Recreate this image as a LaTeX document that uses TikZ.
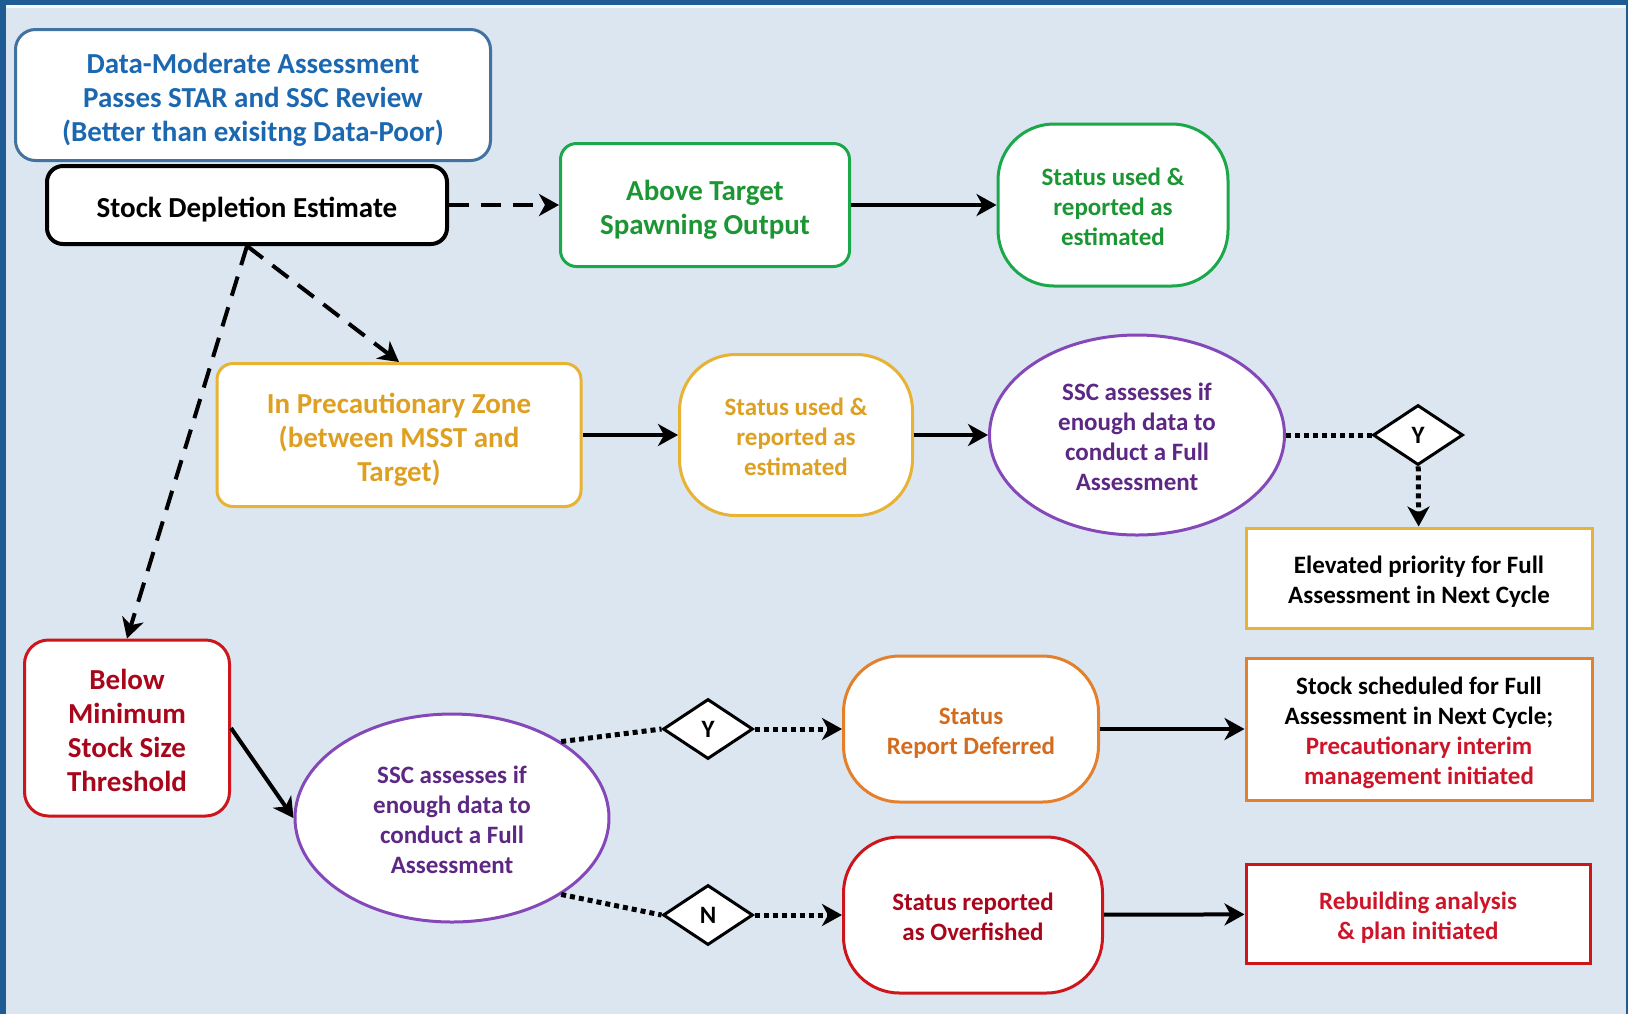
\documentclass[tikz,border=0pt]{standalone}
\usepackage{fontspec}
\setmainfont{Carlito}
\usepackage{xcolor}
\usepackage{tikz}
\usetikzlibrary{arrows.meta,shapes.geometric}
\definecolor{fundo}{RGB}{220,230,241}
\definecolor{moldura}{RGB}{31,92,148}
\definecolor{azulborda}{RGB}{66,114,160}
\definecolor{azultexto}{RGB}{28,104,176}
\definecolor{verdeborda}{RGB}{26,168,74}
\definecolor{verdetexto}{RGB}{28,150,52}
\definecolor{ouroborda}{RGB}{232,178,52}
\definecolor{ourotexto}{RGB}{222,160,34}
\definecolor{roxoborda}{RGB}{133,72,184}
\definecolor{roxotexto}{RGB}{92,40,132}
\definecolor{laranjaborda}{RGB}{228,128,44}
\definecolor{laranjatexto}{RGB}{212,108,32}
\definecolor{vermelhoborda}{RGB}{205,22,28}
\definecolor{vermelhotexto}{RGB}{168,6,28}
\definecolor{vermelhovivo}{RGB}{206,20,40}
\tikzset{
  texto/.style={inner sep=0pt,align=flush center,
    execute at begin node={\rule{0pt}{1.12em}},
    execute at end node={\rule[-0.25em]{0pt}{0.25em}}},
  caixa/.style={texto,rectangle,rounded corners=8pt,fill=white,line width=1.5pt,
    font=\bfseries\fontsize{14.5}{17}\selectfont},
  pilula/.style={texto,rectangle,rounded corners=28pt,fill=white,line width=1.5pt,
    font=\bfseries\fontsize{12.5}{15}\selectfont},
  oval/.style={texto,ellipse,draw=roxoborda,fill=white,line width=1.5pt,text=roxotexto,
    font=\bfseries\fontsize{12.5}{15}\selectfont},
  quadro/.style={texto,rectangle,fill=white,line width=1.5pt,
    font=\bfseries\fontsize{12.5}{15}\selectfont},
  decisao/.style={diamond,aspect=1.5,draw=black,fill=white,line width=1.5pt,
    minimum width=45pt,minimum height=30pt,inner sep=0pt,
    font=\bfseries\fontsize{12.5}{15}\selectfont},
  seta/.style={-{Stealth[length=10pt,width=11pt,inset=3pt]},line width=2pt},
  setatraco/.style={seta,dash pattern=on 10pt off 6pt},
  setaponto/.style={line width=2.5pt,dash pattern=on 2.5pt off 2pt},
  setapontocab/.style={setaponto,-{Stealth[length=10pt,width=11pt,inset=3pt]}}
}
\begin{document}
\begin{tikzpicture}[x=0.5pt,y=-0.5pt]
  \useasboundingbox (0,0) rectangle (1628,1014);
  \fill[moldura] (0,0) rectangle (1628,1014);
  \fill[fundo] (6,5) rectangle (1626,1014);
  \fill[white!70!fundo] (6,5) rectangle (1626,8);

  % linha de cima
  \node[caixa,draw=azulborda,text=azultexto,rounded corners=10pt,
    text width=237.5pt,minimum height=65.5pt] (dma) at (253,95)
    {Data-Moderate Assessment\\Passes STAR and SSC Review\\(Better than exisitng Data-Poor)};
  \node[caixa,draw=black,line width=2pt,text width=200pt,minimum height=39pt]
    (estimativa) at (247,205) {Stock Depletion Estimate};
  \node[caixa,draw=verdeborda,text=verdetexto,text width=144.5pt,
    minimum height=61.5pt] (acima) at (705,205) {Above Target\\Spawning Output};
  \node[pilula,draw=verdeborda,text=verdetexto,text width=115pt,
    minimum height=81pt] (usadoverde) at (1113,205)
    {Status used \&\\reported as\\estimated};

  % zona de precaucao
  \node[caixa,draw=ouroborda,text=ourotexto,text width=182pt,
    minimum height=71.5pt] (precaucao) at (399,435)
    {In Precautionary Zone\\(between MSST and\\Target)};
  \node[pilula,draw=ouroborda,text=ourotexto,text width=116.5pt,
    minimum height=80.5pt] (usadoouro) at (796,435)
    {Status used \&\\reported as\\estimated};
  \node[oval,text width=100pt,minimum width=147.5pt,minimum height=100pt]
    (sscum) at (1137,435)
    {SSC assesses if\\enough data to\\conduct a Full\\Assessment};
  \node[decisao] (simum) at (1418,435) {Y};
  \node[quadro,draw=ouroborda,text width=173pt,minimum height=50pt]
    (elevada) at (1419,578) {Elevated priority for Full\\Assessment in Next Cycle};

  % abaixo do limiar
  \node[caixa,draw=vermelhoborda,text=vermelhotexto,rounded corners=12pt,
    text width=102.5pt,minimum height=88pt] (abaixo) at (127,728)
    {Below\\Minimum\\Stock Size\\Threshold};
  \node[oval,text width=105pt,minimum width=157pt,minimum height=104pt]
    (sscdois) at (452,818)
    {SSC assesses if\\enough data to\\conduct a Full\\Assessment};
  \node[decisao] (simdois) at (708,729) {Y};
  \node[decisao] (nao) at (708,915) {N};
  \node[pilula,draw=laranjaborda,text=laranjatexto,text width=127.5pt,
    minimum height=73pt] (adiado) at (971,729) {Status\\Report Deferred};
  \node[pilula,draw=vermelhoborda,text=vermelhotexto,text width=129.5pt,
    minimum height=78pt] (sobrepesca) at (973,915)
    {Status reported\\as Overfished};
  \node[quadro,draw=laranjaborda,text width=173pt,minimum height=71pt]
    (agendado) at (1419,729) {Stock scheduled for Full\\Assessment in Next Cycle;\\
    \textcolor{vermelhovivo}{Precautionary interim}\\
    \textcolor{vermelhovivo}{management initiated}};
  \node[quadro,draw=vermelhoborda,text=vermelhovivo,text width=172pt,
    minimum height=49.5pt] (reconstrucao) at (1418,914)
    {Rebuilding analysis\\\& plan initiated};

  % setas
  \draw[setatraco] (estimativa) -- (acima);
  \draw[setatraco] (estimativa.south) -- (precaucao.north);
  \draw[setatraco] (estimativa.south) -- (abaixo.north);
  \draw[seta] (acima) -- (usadoverde);
  \draw[seta] (precaucao) -- (usadoouro);
  \draw[seta] (usadoouro) -- (sscum);
  \draw[setaponto] (sscum) -- (simum);
  \draw[setapontocab] (simum) -- (elevada);
  \draw[seta] (abaixo.east) -- (sscdois.west);
  \draw[setaponto] (sscdois.35) -- (simdois.west);
  \draw[setaponto] (sscdois.-35) -- (nao.west);
  \draw[setapontocab] (simdois) -- (adiado);
  \draw[setapontocab] (nao) -- (sobrepesca);
  \draw[seta] (adiado) -- (agendado);
  \draw[seta] (sobrepesca) -- (reconstrucao);
\end{tikzpicture}
\end{document}
